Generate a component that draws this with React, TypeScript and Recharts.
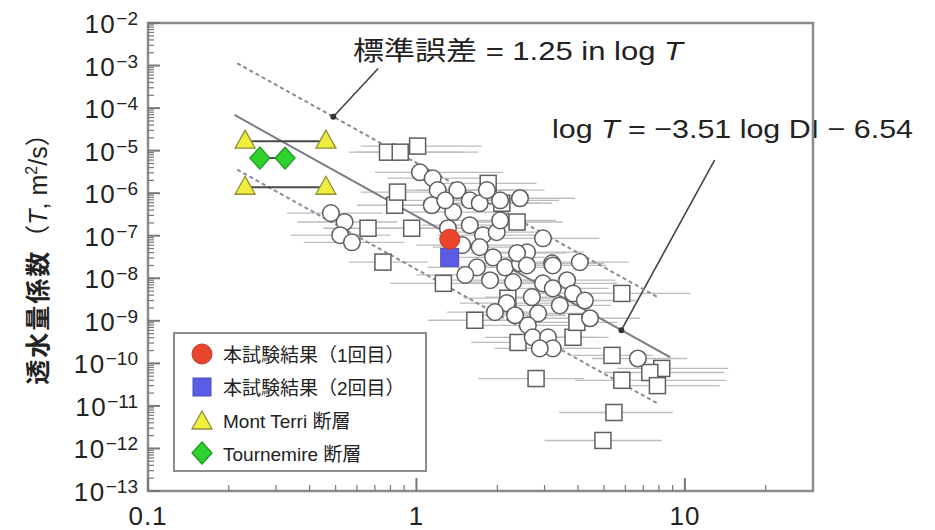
import {
  Customized,
  ErrorBar,
  Legend,
  ReferenceArea,
  ReferenceDot,
  ReferenceLine,
  Scatter,
  ScatterChart,
  XAxis,
  YAxis,
} from "recharts";

const FONT = '"Liberation Sans", "Noto Sans CJK JP", Arial, sans-serif';

// 既往データ（□）: DI, T, DI の幅（下限・上限）
const squareDI = [0.78, 0.87, 1.01, 1.85, 0.83, 0.85, 0.66, 0.96, 0.75, 1.26, 1.65, 2.19, 2.39, 3.83, 3.96, 5.82, 5.35, 8.2, 7.4, 5.82, 7.9, 2.79, 5.44, 4.95, 2.08, 2.37];
const squareT = [9.2e-6, 9.2e-6, 1.28e-5, 1.7e-6, 5.2e-7, 1.06e-6, 1.5e-7, 1.5e-7, 2.4e-8, 7.6e-9, 1.03e-9, 3.4e-9, 3.1e-10, 4.1e-10, 9.2e-10, 4.4e-9, 1.54e-10, 7.6e-11, 6.1e-11, 4.0e-11, 3.0e-11, 4.4e-11, 7.0e-12, 1.54e-12, 5.8e-7, 2.1e-7];
const squareLo = [0.56, 0.6, 0.62, 1.2, 0.6, 0.62, 0.45, 0.7, 0.56, 0.8, 1.1, 1.5, 1.6, 2.7, 2.8, 3.9, 3.8, 5.6, 5.0, 3.9, 5.4, 1.7, 3.4, 3.0, 1.4, 1.6];
const squareHi = [1.7, 1.5, 1.75, 2.8, 1.3, 1.4, 1.0, 1.5, 1.1, 1.9, 2.4, 3.3, 3.4, 5.2, 5.6, 10.5, 7.6, 14.5, 14.0, 14.2, 13.5, 4.2, 9.0, 8.2, 3.2, 3.5];

// 既往データ（○）
const circleDI = [1.03, 1.15, 1.2, 1.42, 1.14, 1.37, 1.58, 1.72, 2.05, 2.43, 1.83, 1.58, 1.77, 1.99, 2.05, 1.72, 1.93, 2.14, 2.43, 2.58, 2.96, 3.2, 2.37, 1.68, 1.88, 2.29, 2.96, 3.64, 3.83, 3.22, 2.69, 3.42, 2.84, 2.6, 2.17, 2.71, 3.09, 3.22, 2.88, 3.22, 2.58, 0.54, 0.52, 0.575, 0.48, 6.68, 4.43, 1.31, 1.48, 1.52, 4.06, 1.96, 2.33, 4.24, 1.28];
const circleT = [3.1e-6, 2.25e-6, 1.18e-6, 1.18e-6, 5.2e-7, 3.6e-7, 6.8e-7, 5.8e-7, 6.8e-7, 7.6e-7, 1.18e-6, 1.77e-7, 1.03e-7, 1.21e-7, 2.3e-7, 5.4e-8, 3.1e-8, 1.8e-8, 2.25e-8, 4.1e-8, 8.7e-8, 2.25e-8, 3.9e-8, 1.8e-8, 9.0e-9, 8.1e-9, 7.6e-9, 9.0e-9, 4.4e-9, 5.8e-9, 3.6e-9, 2.3e-9, 1.5e-9, 7.8e-10, 2.6e-9, 4.1e-10, 4.1e-10, 2.25e-10, 2.25e-10, 2.0e-8, 2.0e-8, 2.1e-7, 1.03e-7, 7.0e-8, 3.4e-7, 1.3e-10, 1.15e-9, 1.5e-7, 6.0e-8, 1.2e-8, 2.4e-8, 1.6e-9, 1.35e-9, 3.0e-9, 6.8e-7];
const circleLo = [0.7, 0.78, 0.8, 1.0, 0.75, 0.95, 1.1, 1.2, 1.4, 1.7, 1.25, 1.05, 1.2, 1.35, 1.4, 1.15, 1.3, 1.45, 1.65, 1.8, 2.0, 2.2, 1.6, 1.1, 1.25, 1.5, 2.0, 2.5, 2.6, 2.2, 1.8, 2.3, 1.9, 1.7, 1.45, 1.8, 2.1, 2.2, 1.95, 2.2, 1.75, 0.36, 0.34, 0.38, 0.33, 4.5, 3.0, 0.9, 1.0, 1.0, 2.8, 1.3, 1.55, 2.9, 0.85];
const circleHi = [2.1, 1.9, 2.3, 2.6, 1.8, 2.2, 2.5, 2.9, 3.4, 3.9, 3.0, 2.6, 2.8, 3.1, 3.3, 2.7, 3.0, 3.4, 3.8, 4.2, 4.8, 5.0, 3.6, 2.6, 3.0, 3.6, 5.6, 5.5, 5.9, 5.2, 4.1, 5.3, 4.4, 4.0, 3.3, 4.2, 4.7, 4.9, 4.4, 5.1, 4.0, 0.85, 0.8, 0.9, 0.75, 10.2, 6.8, 2.0, 2.3, 2.4, 6.2, 3.0, 3.6, 6.6, 2.0];

// 本試験結果
const run1DI = [1.33];
const run1T = [8.3e-8];
const run2DI = [1.33];
const run2T = [3.1e-8];

// Mont Terri / Tournemire 断層
const montTerriDI = [0.23, 0.46];
const montTerriUpperT = [1.67e-5, 1.67e-5];
const montTerriLowerT = [1.38e-6, 1.38e-6];
const tournemireDI = [0.261, 0.324];
const tournemireT = [6.7e-6, 6.7e-6];

// 回帰式 log T = -3.51 log DI - 6.54, 標準誤差 1.25
const FIT_SLOPE = -3.51;
const FIT_INTERCEPT = -6.54;
const FIT_SE = 1.25;
const fitDI = [0.21, 8.8];
const bandDI = [0.215, 8.0];

// 目盛
const xMajor = [0.1, 1, 10];
const xMinor = [0.2, 0.3, 0.4, 0.5, 0.6, 0.7, 0.8, 0.9, 2, 3, 4, 5, 6, 7, 8, 9, 20];
const yExponents = [-13, -12, -11, -10, -9, -8, -7, -6, -5, -4, -3, -2];
const yMinorSteps = [2, 3, 4, 5, 6, 7, 8, 9];

const xTicks = [...xMajor, ...xMinor].sort((a, b) => a - b);
const yTicks = yExponents.flatMap((e) => [
  Math.pow(10, e),
  ...(e < -2 ? yMinorSteps.map((m) => m * Math.pow(10, e)) : []),
]);

const toRows = (di: number[], t: number[], lo: number[], hi: number[]) =>
  di.map((x, i) => ({ x, y: t[i], ex: [x - lo[i], hi[i] - x] }));

const squares = toRows(squareDI, squareT, squareLo, squareHi);
const circles = toRows(circleDI, circleT, circleLo, circleHi);
const errorRows = [...squares, ...circles];

const fitAt = (x: number, shift: number) =>
  Math.pow(10, FIT_SLOPE * Math.log10(x) + FIT_INTERCEPT + shift);
const fitLine = fitDI.map((x) => ({ x, y: fitAt(x, 0) }));
const upperLine = bandDI.map((x) => ({ x, y: fitAt(x, FIT_SE) }));
const lowerLine = bandDI.map((x) => ({ x, y: fitAt(x, -FIT_SE) }));

const run1 = run1DI.map((x, i) => ({ x, y: run1T[i] }));
const run2 = run2DI.map((x, i) => ({ x, y: run2T[i] }));
const mtUpper = montTerriDI.map((x, i) => ({ x, y: montTerriUpperT[i] }));
const mtLower = montTerriDI.map((x, i) => ({ x, y: montTerriLowerT[i] }));
const tournemire = tournemireDI.map((x, i) => ({ x, y: tournemireT[i] }));

// 注記の矢印（データ座標）
const seArrow = [{ x: 0.72, y: 8.5e-4 }, { x: 0.49, y: fitAt(0.49, FIT_SE) }];
const fitArrow = [{ x: 12.9, y: 6e-6 }, { x: 5.8, y: fitAt(5.8, 0) }];

const isDecade = (v: number) => Math.abs(Math.log10(v) - Math.round(Math.log10(v))) < 1e-6;

const NoMark = () => <g />;

const OpenSquare = (p: any) => (
  <rect x={p.cx - 8} y={p.cy - 8} width={16} height={16} fill="#fff" stroke="#5e5e5e" strokeWidth={1.5} />
);
const OpenCircle = (p: any) => (
  <circle cx={p.cx} cy={p.cy} r={8.3} fill="#fff" stroke="#5e5e5e" strokeWidth={1.5} />
);
const RedCircle = (p: any) => (
  <circle cx={p.cx} cy={p.cy} r={10} fill="#e8452c" stroke="#c23a2a" strokeWidth={1} />
);
const BlueSquare = (p: any) => (
  <rect x={p.cx - 9} y={p.cy - 9} width={18} height={18} fill="#5b5ce6" stroke="#4a4ac4" strokeWidth={1} />
);
const Triangle = (p: any) => (
  <polygon
    points={`${p.cx},${p.cy - 11} ${p.cx - 10},${p.cy + 7} ${p.cx + 10},${p.cy + 7}`}
    fill="#efee3c"
    stroke="#8e8e3e"
    strokeWidth={1.3}
  />
);
const Diamond = (p: any) => (
  <polygon
    points={`${p.cx},${p.cy - 11} ${p.cx + 10},${p.cy} ${p.cx},${p.cy + 11} ${p.cx - 10},${p.cy}`}
    fill="#2fd12f"
    stroke="#1c941c"
    strokeWidth={1.2}
  />
);

const XTick = (props: any) => {
  const { x, y, payload } = props;
  const v = payload.value as number;
  const major = isDecade(v);
  return (
    <g>
      <line x1={x} x2={x} y1={y} y2={y - (major ? 13 : 6)} stroke="#777" strokeWidth={major ? 2 : 1.2} />
      {major && (
        <text x={x} y={y + 34} textAnchor="middle" fontFamily={FONT} fontSize={26} fill="#222" letterSpacing={1}>
          {String(v)}
        </text>
      )}
    </g>
  );
};

const YTick = (props: any) => {
  const { x, y, payload } = props;
  const v = payload.value as number;
  const major = isDecade(v);
  const e = Math.round(Math.log10(v));
  return (
    <g>
      <line x1={x} x2={x + (major ? 12 : 6)} y1={y} y2={y} stroke="#777" strokeWidth={major ? 2 : 1.2} />
      {major && (
        <text x={x - 10} y={y + 10} textAnchor="end" fontFamily={FONT} fill="#222">
          <tspan fontSize={26} letterSpacing={1.5}>10</tspan>
          <tspan fontSize={19} dy={-8}>{`\u2212${-e}`}</tspan>
        </text>
      )}
    </g>
  );
};

const legendItems = [
  { label: "本試験結果（1回目）", kind: "red" },
  { label: "本試験結果（2回目）", kind: "blue" },
  { label: "Mont Terri 断層", kind: "triangle" },
  { label: "Tournemire 断層", kind: "diamond" },
];

const LegendIcon = ({ kind }: { kind: string }) => {
  const c = 11;
  return (
    <svg width={22} height={24} style={{ flex: "none" }}>
      {kind === "red" && <RedCircle cx={c} cy={12} />}
      {kind === "blue" && <BlueSquare cx={c} cy={12} />}
      {kind === "triangle" && <Triangle cx={c} cy={14} />}
      {kind === "diamond" && <Diamond cx={c} cy={12} />}
    </svg>
  );
};

const LegendBox = () => (
  <div
    style={{
      boxSizing: "border-box",
      width: 254,
      height: 140,
      border: "2px solid #8c8c8c",
      background: "#fff",
      paddingTop: 3,
      fontFamily: FONT,
      fontSize: 19,
      color: "#222",
    }}
  >
    {legendItems.map((item) => (
      <div key={item.label} style={{ display: "flex", alignItems: "center", height: 33, paddingLeft: 16 }}>
        <LegendIcon kind={item.kind} />
        <span style={{ marginLeft: 10, whiteSpace: "nowrap" }}>{item.label}</span>
      </div>
    ))}
  </div>
);

const Labels = () => (
  <g fontFamily={FONT} fill="#222">
    <text x={47} y={253} transform="rotate(-90, 47, 253)" textAnchor="middle" fontSize={25}>
      <tspan fontWeight="bold" letterSpacing={2}>透水量係数</tspan>
      <tspan>（</tspan>
      <tspan fontStyle="italic">T</tspan>
      <tspan>, m</tspan>
      <tspan fontSize={16} dy={-10}>2</tspan>
      <tspan dy={10}>/s）</tspan>
    </text>
    <text x={353} y={60} fontSize={26} textLength={330} lengthAdjust="spacingAndGlyphs">
      標準誤差 = 1.25 in log <tspan fontStyle="italic">T</tspan>
    </text>
    <text x={552} y={138} fontSize={26} textLength={361} lengthAdjust="spacingAndGlyphs">
      log <tspan fontStyle="italic">T</tspan> = {"\u2212"}3.51 log DI {"\u2212"} 6.54
    </text>
  </g>
);

export default function App() {
  return (
    <div style={{ position: "absolute", left: 0, top: 0, width: 935, height: 530, background: "#fff" }}>
      <ScatterChart width={935} height={530} margin={{ top: 23, right: 122, bottom: 0, left: 0 }}>
        <XAxis
          type="number"
          dataKey="x"
          scale="log"
          domain={[0.1, 30]}
          allowDataOverflow
          ticks={xTicks}
          interval={0}
          tick={XTick}
          tickLine={false}
          axisLine={false}
          tickSize={0}
          tickMargin={0}
          height={39}
        />
        <YAxis
          type="number"
          dataKey="y"
          scale="log"
          domain={[1e-13, 1e-2]}
          allowDataOverflow
          ticks={yTicks}
          interval={0}
          tick={YTick}
          tickLine={false}
          axisLine={false}
          tickSize={0}
          tickMargin={0}
          width={148}
        />
        <ReferenceArea x1={0.1} x2={30} y1={1e-13} y2={1e-2} fill="none" fillOpacity={0} stroke="#8c8c8c" strokeWidth={2.5} />

        <Scatter data={errorRows} shape={NoMark} isAnimationActive={false} legendType="none">
          <ErrorBar dataKey="ex" direction="x" width={0} stroke="#bdbdbd" strokeWidth={1.3} />
        </Scatter>

        <Scatter data={upperLine} line={{ stroke: "#8a8a9a", strokeWidth: 2, strokeDasharray: "4 3" }} shape={NoMark} isAnimationActive={false} legendType="none" />
        <Scatter data={lowerLine} line={{ stroke: "#8a8a9a", strokeWidth: 2, strokeDasharray: "4 3" }} shape={NoMark} isAnimationActive={false} legendType="none" />
        <Scatter data={fitLine} line={{ stroke: "#7a7a86", strokeWidth: 2 }} shape={NoMark} isAnimationActive={false} legendType="none" />

        <Scatter data={squares} shape={OpenSquare} isAnimationActive={false} legendType="none" />
        <Scatter data={circles} shape={OpenCircle} isAnimationActive={false} legendType="none" />

        <Scatter data={mtUpper} line={{ stroke: "#4a4a4a", strokeWidth: 2 }} shape={Triangle} isAnimationActive={false} legendType="none" />
        <Scatter data={mtLower} line={{ stroke: "#4a4a4a", strokeWidth: 2 }} shape={Triangle} isAnimationActive={false} legendType="none" />
        <Scatter data={tournemire} line={{ stroke: "#4a4a4a", strokeWidth: 2 }} shape={Diamond} isAnimationActive={false} legendType="none" />
        <Scatter data={run2} shape={BlueSquare} isAnimationActive={false} legendType="none" />
        <Scatter data={run1} shape={RedCircle} isAnimationActive={false} legendType="none" />

        <ReferenceLine segment={seArrow} stroke="#444" strokeWidth={1.6} />
        <ReferenceDot x={seArrow[1].x} y={seArrow[1].y} r={3} fill="#333" stroke="none" />
        <ReferenceLine segment={fitArrow} stroke="#444" strokeWidth={1.6} />
        <ReferenceDot x={fitArrow[1].x} y={fitArrow[1].y} r={3} fill="#333" stroke="none" />

        <Legend
          layout="vertical"
          align="center"
          verticalAlign="middle"
          content={LegendBox}
          wrapperStyle={{ left: 173, top: 332, width: 254, height: 140 }}
        />
        <Customized component={Labels} />
      </ScatterChart>
    </div>
  );
}
